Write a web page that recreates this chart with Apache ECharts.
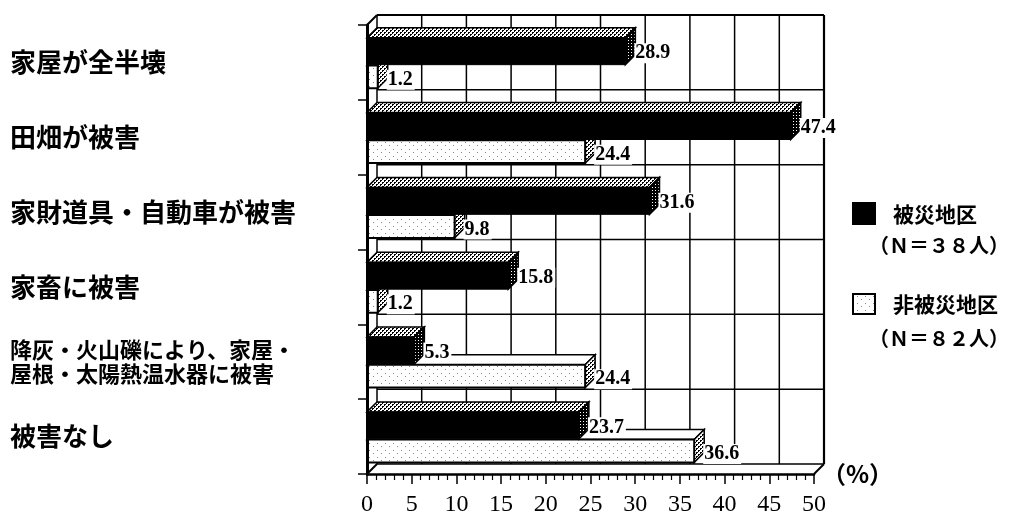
<!DOCTYPE html>
<html>
<head>
<meta charset="utf-8">
<script src="https://cdn.jsdelivr.net/npm/echarts@6/dist/echarts.min.js"></script>
<style>
  html, body { margin: 0; padding: 0; background: #fff; }
  #chart { width: 1013px; height: 517px; }
</style>
</head>
<body>
<div id="chart"></div>
<script>
// Damage categories (top to bottom)
const categories = [
  '家屋が全半壊',
  '田畑が被害',
  '家財道具・自動車が被害',
  '家畜に被害',
  '降灰・火山礫により、家屋・\n屋根・太陽熱温水器に被害',
  '被害なし'
];
// 被災地区 (N=38) percentages
const affected = [28.9, 47.4, 31.6, 15.8, 5.3, 23.7];
// 非被災地区 (N=82) percentages
const unaffected = [1.2, 24.4, 9.8, 1.2, 24.4, 36.6];
// Value-axis grid positions (%)
const gridValues = [0, 5, 10, 15, 20, 25, 30, 35, 40, 45, 50];

const seriesNames = ['被災地区', '非被災地区'];
const legendNotes = ['（Ｎ＝３８人）', '（Ｎ＝８２人）'];

const D = 10;           // depth of the 3-D extrusion in px
const INK = '#000';

function makePattern(w, h, bg, fg, dots) {
  const c = document.createElement('canvas');
  c.width = w; c.height = h;
  const g = c.getContext('2d');
  g.fillStyle = bg; g.fillRect(0, 0, w, h);
  g.fillStyle = fg;
  dots.forEach(([x, y]) => g.fillRect(x, y, 1, 1));
  return { image: c, repeat: 'repeat' };
}
const densePat = () => makePattern(4, 4, '#fff', '#000', [[0,0],[1,0],[0,1],[2,2],[3,2],[2,3]]);
const sparsePat = () => makePattern(8, 7, '#fff', '#888', [[1,2],[5,5]]);
const darkPat = () => makePattern(3, 3, '#000', '#fff', [[1,1]]);

// Back wall, left wall and floor of the 3-D frame
function renderFrame(params, api) {
  const h = api.size([0, 1])[1];
  const x0 = api.coord([0, 0])[0];
  const x50 = api.coord([gridValues[gridValues.length - 1], 0])[0];
  const yTop = api.coord([0, 0])[1] - h / 2;
  const yBot = api.coord([0, categories.length - 1])[1] + h / 2;
  const line = (a, b, c, d, w) => ({
    type: 'line', shape: { x1: a, y1: b, x2: c, y2: d },
    style: { stroke: INK, lineWidth: w || 1.5 }
  });
  const kids = [];
  // vertical grid lines on the back wall
  gridValues.forEach((v, k) => {
    const x = api.coord([v, 0])[0] + D;
    kids.push(line(x, yTop - D, x, yBot - D, k === gridValues.length - 1 ? 2.2 : 1.5));
  });
  // horizontal lines at category boundaries on the back wall
  for (let i = 0; i <= categories.length; i++) {
    const y = yTop + i * h - D;
    kids.push(line(x0 + D, y, x50 + D, y, i === 0 ? 2 : 1.5));
  }
  // receding edges
  kids.push(line(x0, yTop, x0 + D, yTop - D, 2));
  kids.push(line(x0, yBot, x0 + D, yBot - D, 2));
  kids.push(line(x50, yBot, x50 + D, yBot - D, 2));
  return { type: 'group', children: kids };
}

// 3-D horizontal bar; f0/f1 give the front face's span inside the band
function makeBarRenderer(f0, f1, look) {
  return function (params, api) {
    const v = api.value(0);
    const idx = api.value(1);
    const end = api.coord([v, idx]);
    const start = api.coord([0, idx]);
    const h = api.size([0, 1])[1];
    const bandTop = end[1] - h / 2;
    const xa = start[0], xb = end[0];
    const y1 = bandTop + f0 * h, y2 = bandTop + f1 * h;
    const top = {
      type: 'polygon',
      shape: { points: [[xa, y1], [xa + D, y1 - D], [xb + D, y1 - D], [xb, y1]] },
      style: { fill: look.top, stroke: INK, lineWidth: 1.5 }
    };
    const front = {
      type: 'rect',
      shape: { x: xa, y: y1, width: xb - xa, height: y2 - y1 },
      style: { fill: look.front, stroke: INK, lineWidth: look.frontStroke }
    };
    const side = {
      type: 'polygon',
      shape: { points: [[xb, y1], [xb + D, y1 - D], [xb + D, y2 - D], [xb, y2]] },
      style: { fill: look.side, stroke: INK, lineWidth: 1.5 }
    };
    const label = {
      type: 'text',
      x: xb + D - 1,
      y: (y1 + y2) / 2 + look.labelDy,
      style: {
        text: v.toFixed(1),
        fill: INK,
        font: 'bold 20px "Liberation Serif", serif',
        verticalAlign: 'middle',
        align: 'left',
        backgroundColor: '#fff',
        padding: [0, 2, 0, 1]
      }
    };
    return { type: 'group', children: [top, side, front, label] };
  };
}

const chart = echarts.init(document.getElementById('chart'), null, { renderer: 'canvas' });

const labelFont = '"Noto Sans CJK JP", "Noto Sans CJK SC", sans-serif';

chart.setOption({
  backgroundColor: '#fff',
  animation: false,
  grid: { left: 367, right: 199, top: 25, bottom: 40 },
  xAxis: {
    type: 'value',
    min: 0, max: 50, interval: 5,
    name: '（%）',
    nameLocation: 'end',
    nameGap: 8,
    nameTextStyle: { color: INK, fontFamily: labelFont, fontWeight: 'bold', fontSize: 24, verticalAlign: 'middle', padding: [8, 0, 0, 0] },
    axisLine: { show: true, lineStyle: { color: INK, width: 2.5 } },
    axisTick: { show: true, length: 10, lineStyle: { color: INK, width: 1.5 } },
    minorTick: { show: true, splitNumber: 5, length: 6, lineStyle: { color: INK, width: 1.2 } },
    splitLine: { show: false },
    axisLabel: { color: INK, fontFamily: '"Liberation Serif", serif', fontSize: 24, margin: 19 }
  },
  yAxis: {
    type: 'category',
    inverse: true,
    data: categories,
    z: 10,
    axisLine: { show: true, lineStyle: { color: INK, width: 3 } },
    axisTick: { show: true, length: 9, lineStyle: { color: INK, width: 1.5 } },
    splitLine: { show: false },
    axisLabel: {
      align: 'left',
      margin: 357,
      color: INK,
      fontFamily: labelFont,
      fontWeight: 'bold',
      fontSize: 26,
      lineHeight: 26,
      formatter: function (val) {
        if (val.indexOf('\n') >= 0) {
          return val.split('\n').map(s => '{s|' + s + '}').join('\n');
        }
        return val;
      },
      rich: {
        s: { fontFamily: labelFont, fontWeight: 'bold', fontSize: 22, lineHeight: 24, color: INK }
      }
    }
  },
  graphic: [
    { type: 'rect', shape: { x: 852, y: 202, width: 24, height: 23 }, style: { fill: INK } },
    { type: 'text', x: 893, y: 214, style: { text: seriesNames[0], fill: INK, font: 'bold 21px ' + labelFont, verticalAlign: 'middle' } },
    { type: 'text', x: 869, y: 245, style: { text: legendNotes[0], fill: INK, font: 'bold 20px ' + labelFont, verticalAlign: 'middle' } },
    { type: 'rect', shape: { x: 853, y: 294, width: 22, height: 20 }, style: { fill: sparsePat(), stroke: INK, lineWidth: 2 } },
    { type: 'text', x: 893, y: 304, style: { text: seriesNames[1], fill: INK, font: 'bold 21px ' + labelFont, verticalAlign: 'middle' } },
    { type: 'text', x: 869, y: 338, style: { text: legendNotes[1], fill: INK, font: 'bold 20px ' + labelFont, verticalAlign: 'middle' } }
  ],
  series: [
    {
      type: 'custom',
      name: 'frame',
      z: 1,
      clip: false,
      silent: true,
      renderItem: renderFrame,
      data: [[0, 0]]
    },
    {
      type: 'custom',
      name: seriesNames[1],
      z: 2,
      clip: false,
      encode: { x: 0, y: 1 },
      renderItem: makeBarRenderer(0.54, 0.845, {
        top: '#fff', front: sparsePat(), side: densePat(), frontStroke: 2, labelDy: 3
      }),
      data: unaffected.map((v, i) => [v, i])
    },
    {
      type: 'custom',
      name: seriesNames[0],
      z: 3,
      clip: false,
      encode: { x: 0, y: 1 },
      renderItem: makeBarRenderer(0.17, 0.53, {
        top: densePat(), front: INK, side: darkPat(), frontStroke: 1, labelDy: 2
      }),
      data: affected.map((v, i) => [v, i])
    }
  ]
});
</script>
</body>
</html>
